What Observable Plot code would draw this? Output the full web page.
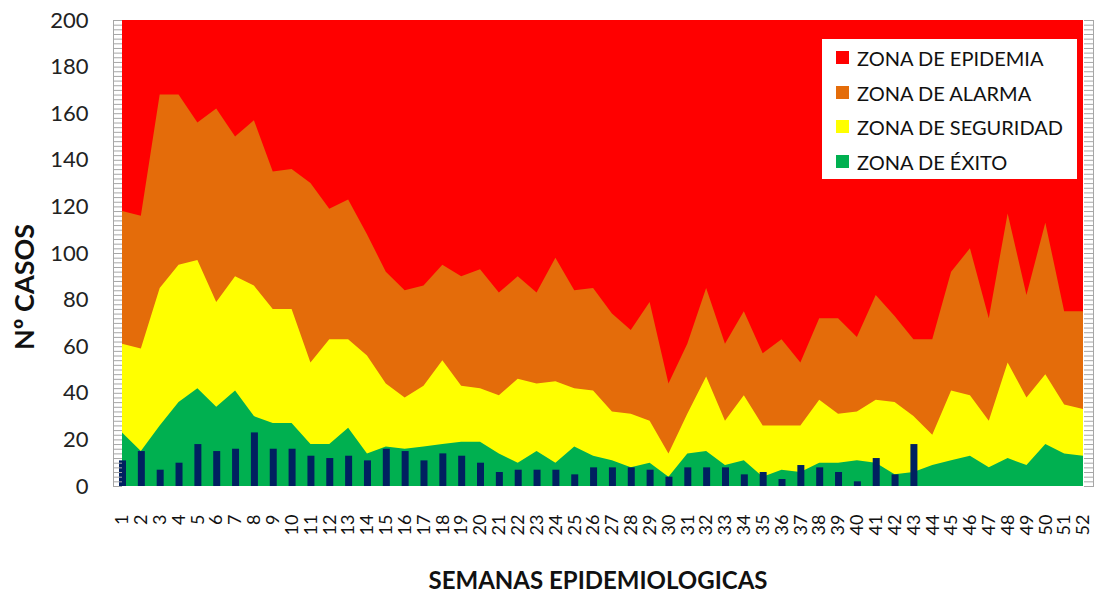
<!DOCTYPE html>
<html><head><meta charset="utf-8">
<script src="https://cdn.jsdelivr.net/npm/d3@7"></script>
<script src="https://cdn.jsdelivr.net/npm/@observablehq/plot@0.6"></script>
<style>
body{margin:0;background:#fff;font-family:Lato,sans-serif;}
#wrap{position:relative;width:1097px;height:596px;overflow:hidden;}
#wrap svg{position:absolute;left:0;top:0;}
.ytitle{position:absolute;left:23px;top:287px;transform:translate(-50%,-50%) rotate(-90deg);font:bold 27px Lato,sans-serif;color:#111;white-space:nowrap;line-height:1;}
.xtitle{position:absolute;left:598px;top:568px;transform:translateX(-50%);font:bold 24px Lato,sans-serif;color:#111;white-space:nowrap;line-height:1;}
.legend{position:absolute;left:822px;top:39px;width:255px;height:140px;background:#fff;}
.row{position:absolute;left:14px;height:20px;font:20px Lato,sans-serif;line-height:20px;color:#111;white-space:nowrap;}
.sw{position:absolute;left:0;top:3.5px;width:13px;height:13px;}
.lbl{position:absolute;left:21px;top:0;}
</style></head><body><div id="wrap"></div>
<script>
const weeks = [1,2,3,4,5,6,7,8,9,10,11,12,13,14,15,16,17,18,19,20,21,22,23,24,25,26,27,28,29,30,31,32,33,34,35,36,37,38,39,40,41,42,43,44,45,46,47,48,49,50,51,52];
const alarm = [118,116,168,168,156,162,150,157,135,136,130,119,123,108,92,84,86,95,90,93,83,90,83,98,84,85,74,67,79,44,61,85,61,75,57,63,53,72,72,64,82,73,63,63,92,102,72,117,82,113,75,75];
const security = [61,59,85,95,97,79,90,86,76,76,53,63,63,56,44,38,43,54,43,42,39,46,44,45,42,41,32,31,28,14,31,47,28,39,26,26,26,37,31,32,37,36,30,22,41,39,28,53,38,48,35,33];
const success = [23,15,26,36,42,34,41,30,27,27,18,18,25,14,17,16,17,18,19,19,14,10,15,10,17,13,11,8,10,4,14,15,9,11,4,7,6,10,10,11,10,5,6,9,11,13,8,12,9,18,14,13];
const cases = [11,15,7,10,18,15,16,23,16,16,13,12,13,11,16,15,11,14,13,10,6,7,7,7,5,8,8,8,7,4,8,8,8,5,6,3,9,8,6,2,12,5,18];
const yMax = 200;
const yTicks = [0,20,40,60,80,100,120,140,160,180,200];
const zoneNames = ["ZONA DE EPIDEMIA","ZONA DE ALARMA","ZONA DE SEGURIDAD","ZONA DE ÉXITO"];
const zoneColors = ["#FF0000","#E46C0A","#FFFF00","#00B050"];
const barColor = "#002060";

const data = weeks.map((w,i)=>({week:w, alarm:alarm[i], security:security[i], success:success[i]}));
const bars = cases.map((c,i)=>({week:weeks[i], cases:c}));
const minor = d3.range(0, yMax + 1, 2);

const chart = Plot.plot({
  width:1097, height:596,
  marginLeft:122, marginRight:14, marginTop:20, marginBottom:110,
  x:{domain:[1,52], axis:null},
  y:{domain:[0,yMax], axis:null, label:null},
  style:{fontFamily:"Lato, sans-serif", background:"white", overflow:"visible"},
  marks:[
    Plot.areaY(data,{x:"week", y1:0, y2:yMax, fill:zoneColors[0]}),
    Plot.areaY(data,{x:"week", y1:0, y2:"alarm", fill:zoneColors[1]}),
    Plot.areaY(data,{x:"week", y1:0, y2:"security", fill:zoneColors[2]}),
    Plot.areaY(data,{x:"week", y1:0, y2:"success", fill:zoneColors[3]}),
    Plot.ruleX(bars,{x:"week", y1:0, y2:"cases", stroke:barColor, strokeWidth:7}),
    Plot.axisY({ticks:minor, tickSize:9, tickFormat:()=>"", stroke:"#a6a6a6", label:null}),
    Plot.axisY({anchor:"right", ticks:minor, tickSize:10, tickFormat:()=>"", stroke:"#a6a6a6", label:null}),
    Plot.ruleX([1],{dx:-9, y1:0, y2:yMax, stroke:"#a6a6a6"}),
    Plot.ruleX([52],{dx:10, y1:0, y2:yMax, stroke:"#a6a6a6"}),
    Plot.ruleY([0],{x1:1, x2:1, dx:-9, stroke:"#a6a6a6"}),
    Plot.axisY({ticks:yTicks, tickSize:0, tickPadding:34, fontSize:22, fill:"#222", label:null}),
    Plot.text(weeks,{x:d=>d, y:0, dy:28, rotate:-90, textAnchor:"end", lineAnchor:"middle", fontSize:18, fill:"#111", text:d=>String(d)})
  ]
});
const wrap = document.getElementById("wrap");
wrap.appendChild(chart);

const yt = document.createElement("div"); yt.className="ytitle"; yt.textContent="Nº CASOS"; wrap.appendChild(yt);
const xt = document.createElement("div"); xt.className="xtitle"; xt.textContent="SEMANAS EPIDEMIOLOGICAS"; wrap.appendChild(xt);
const lg = document.createElement("div"); lg.className="legend";
const rowCenters = [18.5, 53.5, 87.7, 122.5];
zoneNames.forEach((n,i)=>{
  const r = document.createElement("div"); r.className="row"; r.style.top=(rowCenters[i]-10)+"px";
  const s = document.createElement("div"); s.className="sw"; s.style.background=zoneColors[i];
  const t = document.createElement("div"); t.className="lbl"; t.textContent=n;
  r.appendChild(s); r.appendChild(t); lg.appendChild(r);
});
wrap.appendChild(lg);
</script></body></html>
